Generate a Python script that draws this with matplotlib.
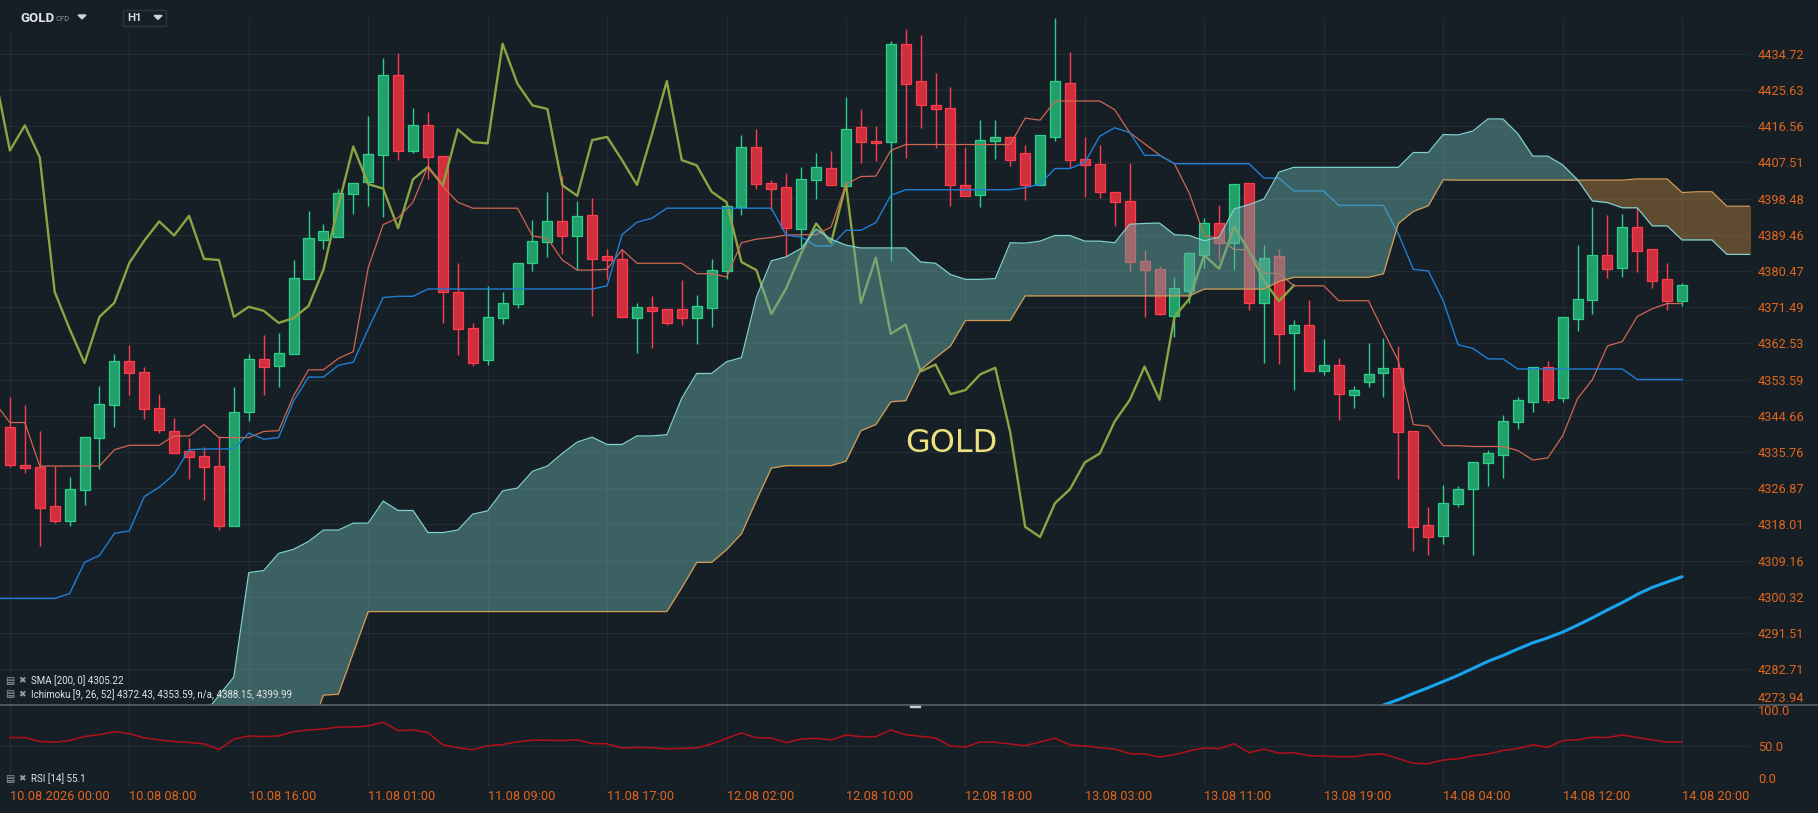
import matplotlib.pyplot as plt
import numpy as np
from matplotlib.patches import Rectangle, Polygon
from matplotlib.ticker import NullLocator

plt.rcParams['font.family'] = ['Roboto', 'DejaVu Sans']

# ---- candles, H1 (bar 0 = 10.08.2026 00:00) ----
opens = [4341.9, 4332.6, 4332.1, 4322.6, 4318.8, 4326.4, 4339.1, 4347.3, 4358.2, 4355.4,
         4346.7, 4341.0, 4335.9, 4334.8, 4332.3, 4317.7, 4345.5, 4358.7, 4356.9, 4359.9,
         4378.5, 4388.3, 4388.9, 4399.6, 4402.7, 4409.4, 4429.4, 4410.5, 4416.8, 4409.1,
         4375.3, 4366.3, 4358.4, 4368.8, 4372.3, 4382.5, 4387.7, 4392.8, 4389.3, 4394.4,
         4384.1, 4383.5, 4368.8, 4371.6, 4371.0, 4371.0, 4368.8, 4371.3, 4380.5, 4396.4,
         4411.5, 4402.4, 4401.4, 4391.0, 4403.1, 4406.1, 4401.6, 4416.3, 4412.9, 4412.6,
         4437.3, 4427.9, 4422.0, 4421.1, 4401.8, 4399.5, 4412.8, 4413.9, 4409.9, 4401.8,
         4414.0, 4427.5, 4408.5, 4407.2, 4400.2, 4397.9, 4383.0, 4380.9, 4369.4, 4375.4,
         4384.4, 4392.3, 4387.5, 4402.4, 4372.5, 4384.1, 4365.1, 4367.2, 4355.6, 4357.3,
         4349.7, 4352.9, 4355.2, 4356.5, 4341.0, 4317.9, 4315.1, 4323.1, 4326.6, 4333.0,
         4334.9, 4343.2, 4348.0, 4356.8, 4349.1, 4368.6, 4373.2, 4384.4, 4381.3, 4391.5,
         4386.0, 4378.4, 4373.0]
highs = [4349.2, 4347.2, 4340.8, 4332.3, 4329.5, 4339.4, 4352.0, 4359.9, 4362.2, 4356.7,
         4350.1, 4344.1, 4339.1, 4337.1, 4339.6, 4351.8, 4359.8, 4364.7, 4365.2, 4383.2,
         4395.3, 4392.2, 4401.0, 4402.4, 4419.2, 4433.8, 4434.9, 4421.2, 4420.1, 4409.1,
         4382.4, 4367.7, 4376.7, 4375.3, 4382.5, 4393.1, 4400.2, 4404.2, 4398.0, 4398.7,
         4386.0, 4385.8, 4372.6, 4374.3, 4371.0, 4378.2, 4374.5, 4383.5, 4396.7, 4414.5,
         4416.0, 4403.2, 4404.8, 4406.3, 4410.0, 4410.4, 4423.9, 4420.9, 4416.7, 4437.9,
         4440.9, 4439.6, 4430.0, 4426.5, 4411.4, 4418.1, 4418.2, 4414.2, 4412.0, 4414.5,
         4443.7, 4435.1, 4413.9, 4412.0, 4400.2, 4407.4, 4385.6, 4381.6, 4379.0, 4385.2,
         4393.7, 4396.8, 4402.1, 4402.4, 4386.9, 4386.0, 4368.3, 4373.4, 4363.7, 4358.8,
         4352.0, 4362.7, 4363.9, 4362.0, 4341.0, 4322.2, 4327.7, 4327.4, 4333.2, 4336.2,
         4344.8, 4349.3, 4356.8, 4358.2, 4369.1, 4386.9, 4396.5, 4394.3, 4394.6, 4396.2,
         4386.0, 4382.5, 4377.5]
lows = [4332.0, 4330.7, 4312.7, 4318.3, 4317.5, 4322.8, 4331.6, 4341.9, 4349.8, 4343.8,
        4340.4, 4335.4, 4329.0, 4323.9, 4316.6, 4317.5, 4343.4, 4349.7, 4351.8, 4359.9,
        4378.5, 4386.0, 4388.9, 4394.6, 4396.7, 4393.9, 4408.1, 4410.0, 4403.4, 4367.6,
        4359.6, 4356.9, 4357.1, 4367.4, 4371.2, 4380.4, 4383.9, 4384.7, 4380.7, 4369.2,
        4378.5, 4369.1, 4360.2, 4361.4, 4367.0, 4367.2, 4362.5, 4366.5, 4378.5, 4394.5,
        4401.0, 4395.7, 4384.1, 4386.6, 4398.4, 4401.8, 4401.6, 4407.5, 4408.0, 4382.9,
        4408.6, 4416.2, 4411.1, 4396.7, 4399.2, 4396.4, 4408.3, 4406.6, 4398.2, 4401.8,
        4413.0, 4406.2, 4398.9, 4398.6, 4391.6, 4380.5, 4369.1, 4369.5, 4364.1, 4372.6,
        4381.3, 4383.0, 4380.7, 4370.8, 4357.7, 4357.4, 4350.9, 4355.6, 4354.6, 4343.7,
        4346.7, 4351.7, 4349.2, 4329.1, 4311.4, 4310.4, 4313.2, 4322.3, 4310.6, 4327.4,
        4329.4, 4341.5, 4345.6, 4347.8, 4348.0, 4365.5, 4369.8, 4378.8, 4379.0, 4380.2,
        4376.3, 4370.7, 4371.7]
closes = [4332.6, 4331.9, 4322.0, 4318.8, 4326.7, 4339.4, 4347.5, 4358.2, 4355.2, 4346.3,
          4341.1, 4335.4, 4334.6, 4332.1, 4317.5, 4345.5, 4358.7, 4356.7, 4360.1, 4378.8,
          4388.6, 4390.3, 4399.8, 4402.4, 4409.6, 4429.4, 4410.5, 4416.8, 4408.8, 4375.3,
          4366.1, 4357.7, 4369.1, 4372.6, 4382.5, 4388.0, 4392.8, 4389.3, 4394.2, 4383.5,
          4383.2, 4369.1, 4371.6, 4370.6, 4367.6, 4368.8, 4371.8, 4380.8, 4396.7, 4411.5,
          4402.1, 4401.0, 4391.1, 4403.3, 4406.4, 4401.8, 4415.8, 4412.6, 4412.3, 4437.3,
          4427.2, 4421.8, 4420.9, 4401.8, 4399.2, 4413.1, 4413.9, 4408.1, 4401.9, 4414.5,
          4427.9, 4408.1, 4406.8, 4400.2, 4397.6, 4382.7, 4380.7, 4369.8, 4376.2, 4384.9,
          4392.3, 4387.5, 4402.1, 4372.5, 4383.8, 4364.9, 4367.2, 4355.6, 4357.3, 4350.0,
          4351.0, 4354.9, 4356.5, 4340.6, 4317.4, 4314.9, 4323.2, 4326.6, 4333.2, 4335.4,
          4343.3, 4348.5, 4356.8, 4348.6, 4369.1, 4373.6, 4384.4, 4381.0, 4391.5, 4385.4,
          4378.0, 4373.0, 4376.9]

# ---- Ichimoku [9, 26, 52] ----
tenkan = [4347.8, 4343.0, 4343.0, 4332.3, 4332.3, 4332.3, 4332.3, 4332.3, 4336.3, 4337.4,
          4337.4, 4337.4, 4339.7, 4339.7, 4342.5, 4339.3, 4339.3, 4339.3, 4340.8, 4341.0,
          4349.6, 4356.0, 4356.0, 4358.8, 4360.5, 4381.3, 4392.0, 4393.7, 4397.6, 4406.6,
          4401.5, 4397.6, 4396.1, 4396.1, 4396.1, 4396.1, 4389.2, 4388.6, 4383.2, 4380.7,
          4380.7, 4380.9, 4385.8, 4382.4, 4382.4, 4382.4, 4382.4, 4379.8, 4379.8, 4379.0,
          4387.5, 4388.4, 4388.8, 4389.4, 4389.5, 4389.5, 4391.4, 4402.1, 4404.0, 4404.1,
          4410.5, 4412.0, 4412.0, 4412.0, 4412.0, 4412.0, 4412.0, 4412.0, 4412.0, 4418.6,
          4418.1, 4422.9, 4422.9, 4422.9, 4422.9, 4420.7, 4415.0, 4412.2, 4409.4, 4407.2,
          4399.8, 4389.2, 4388.6, 4385.8, 4385.8, 4379.9, 4379.9, 4376.8, 4376.8, 4376.8,
          4373.1, 4373.1, 4373.1, 4365.5, 4358.2, 4342.5, 4342.1, 4337.3, 4337.3, 4337.1,
          4337.1, 4337.1, 4336.1, 4333.8, 4334.3, 4339.7, 4348.9, 4353.6, 4361.9, 4363.0,
          4369.2, 4371.1, 4372.4, 4372.4]
kijun = [4299.9, 4299.9, 4299.9, 4299.9, 4299.9, 4301.1, 4308.7, 4310.4, 4315.8, 4316.4,
         4324.8, 4327.1, 4330.3, 4336.3, 4336.5, 4336.5, 4336.5, 4340.4, 4338.9, 4339.3,
         4348.3, 4354.2, 4354.2, 4357.1, 4357.9, 4366.1, 4373.9, 4374.2, 4374.2, 4376.0,
         4376.0, 4376.0, 4376.0, 4376.0, 4376.0, 4376.0, 4376.0, 4376.0, 4376.0, 4376.0,
         4376.0, 4376.8, 4389.5, 4392.6, 4393.6, 4396.1, 4396.1, 4396.1, 4396.1, 4396.1,
         4396.1, 4396.1, 4396.1, 4389.4, 4388.9, 4386.7, 4386.7, 4390.6, 4390.6, 4392.5,
         4399.3, 4400.7, 4400.7, 4400.7, 4400.7, 4400.7, 4400.7, 4400.7, 4400.7, 4401.2,
         4402.1, 4406.0, 4406.0, 4407.5, 4414.1, 4416.2, 4415.0, 4409.3, 4409.3, 4407.2,
         4407.2, 4407.2, 4407.2, 4407.2, 4407.2, 4403.6, 4403.6, 4400.4, 4400.4, 4400.4,
         4396.8, 4396.8, 4396.8, 4396.8, 4389.7, 4380.9, 4380.5, 4373.1, 4362.2, 4361.3,
         4358.7, 4358.7, 4356.2, 4356.2, 4356.2, 4356.2, 4356.2, 4356.2, 4356.2, 4356.2,
         4353.6, 4353.6, 4353.6, 4353.6]
# senkou spans, bars 11..117 (cloud is drawn 26 bars ahead)
senkou_a = [4262.0, 4266.0, 4271.8, 4276.3, 4280.8, 4306.2, 4306.7, 4310.9, 4311.9, 4313.8,
            4316.6, 4316.6, 4318.3, 4318.3, 4323.7, 4321.4, 4321.4, 4316.0, 4316.0, 4316.6,
            4320.5, 4321.3, 4326.2, 4326.9, 4331.0, 4332.3, 4335.4, 4338.2, 4339.4, 4337.6,
            4337.6, 4339.7, 4339.7, 4340.0, 4349.0, 4355.1, 4355.1, 4358.0, 4359.0, 4374.0,
            4383.0, 4384.0, 4386.1, 4390.9, 4388.4, 4386.9, 4386.2, 4386.2, 4386.2, 4386.2,
            4382.7, 4382.4, 4379.6, 4378.4, 4378.4, 4378.6, 4387.5, 4387.4, 4387.9, 4389.3,
            4389.3, 4387.9, 4387.9, 4387.5, 4392.1, 4392.3, 4392.4, 4389.5, 4389.3, 4388.0,
            4388.9, 4395.9, 4397.0, 4398.4, 4405.1, 4406.3, 4406.3, 4406.3, 4406.3, 4406.3,
            4406.3, 4406.3, 4406.3, 4410.0, 4410.0, 4414.5, 4414.4, 4415.4, 4418.4, 4418.4,
            4414.7, 4409.1, 4409.1, 4406.9, 4403.2, 4397.9, 4397.5, 4396.2, 4396.2, 4391.7,
            4391.7, 4388.2, 4388.2, 4388.2, 4384.6, 4384.6, 4384.6]
senkou_b = [4262.0, 4262.0, 4262.0, 4262.0, 4262.0, 4262.0, 4262.0, 4262.0, 4262.0, 4266.6,
            4276.4, 4276.6, 4286.7, 4296.7, 4296.7, 4296.7, 4296.7, 4296.7, 4296.7, 4296.7,
            4296.7, 4296.7, 4296.7, 4296.7, 4296.7, 4296.7, 4296.7, 4296.7, 4296.7, 4296.7,
            4296.7, 4296.7, 4296.7, 4296.7, 4302.5, 4308.7, 4308.7, 4311.8, 4315.7, 4323.9,
            4331.8, 4332.4, 4332.4, 4332.4, 4332.4, 4333.5, 4341.0, 4342.5, 4348.1, 4348.4,
            4356.0, 4359.0, 4361.9, 4368.2, 4368.2, 4368.2, 4368.2, 4374.3, 4374.3, 4374.3,
            4374.3, 4374.3, 4374.3, 4374.3, 4374.3, 4374.3, 4374.3, 4374.3, 4374.3, 4376.0,
            4376.0, 4376.0, 4376.0, 4376.0, 4377.9, 4378.9, 4378.9, 4378.9, 4378.9, 4378.9,
            4378.9, 4379.8, 4392.3, 4395.3, 4396.7, 4403.2, 4403.1, 4403.1, 4403.1, 4403.1,
            4403.1, 4403.1, 4403.1, 4403.1, 4403.1, 4403.1, 4403.1, 4403.1, 4403.4, 4403.4,
            4403.4, 4400.0, 4400.2, 4400.2, 4396.6, 4396.6, 4396.6]

# SMA [200, 0], bars 91..112
sma200 = [4272.4, 4274.0, 4275.3, 4276.8, 4278.2, 4279.7, 4281.2, 4282.9, 4284.6, 4286.0,
          4287.6, 4289.1, 4290.3, 4291.7, 4293.4, 4295.2, 4297.1, 4298.9, 4300.9, 4302.6,
          4303.9, 4305.2]

# RSI [14]
rsi = [60.2, 60.2, 55.3, 54.5, 56.5, 61.4, 63.8, 67.5, 65.0, 59.8,
       57.3, 55.3, 54.1, 52.4, 45.5, 58.1, 62.2, 61.4, 62.2, 67.5,
       69.5, 70.7, 73.2, 73.2, 74.4, 79.3, 68.7, 69.5, 66.3, 51.2,
       47.6, 45.1, 50.0, 51.6, 54.9, 56.9, 56.9, 56.5, 57.3, 52.8,
       52.4, 47.2, 48.0, 47.6, 46.3, 46.7, 47.6, 52.2, 59.2, 65.8,
       60.0, 59.6, 53.9, 58.4, 59.2, 57.2, 63.3, 61.3, 61.3, 69.5,
       63.7, 61.7, 59.6, 49.8, 48.5, 54.7, 54.3, 52.2, 50.2, 54.7,
       59.6, 51.0, 49.8, 47.7, 46.0, 40.3, 39.9, 36.2, 39.1, 43.8,
       47.3, 46.5, 52.6, 41.5, 46.0, 40.7, 41.5, 37.8, 37.4, 36.6,
       36.6, 39.1, 39.9, 34.1, 28.4, 27.9, 32.5, 33.9, 37.8, 39.8,
       44.3, 46.7, 51.2, 48.0, 56.5, 57.3, 60.6, 60.2, 63.4, 60.2,
       57.3, 54.5, 55.1]

price_ticks = [4434.72, 4425.63, 4416.56, 4407.51, 4398.48, 4389.46, 4380.47, 4371.49,
               4362.53, 4353.59, 4344.66, 4335.76, 4326.87, 4318.01, 4309.16, 4300.32,
               4291.51, 4282.71, 4273.94]
time_labels = ['10.08.2026 00:00', '10.08 08:00', '10.08 16:00', '11.08 01:00',
               '11.08 09:00', '11.08 17:00', '12.08 02:00', '12.08 10:00', '12.08 18:00',
               '13.08 03:00', '13.08 11:00', '13.08 19:00', '14.08 04:00', '14.08 12:00',
               '14.08 20:00']
time_pos = [0, 8, 16, 24, 32, 40, 48, 56, 64, 72, 80, 88, 96, 104, 112]

BG = '#171f26'
GRID = '#222c34'
AXCOL = '#e0651c'
W, H = 1818, 813


def fx(px):
    return px / W


def fy(py):
    return 1 - py / H


fig = plt.figure(figsize=(W / 100, H / 100), dpi=100, facecolor=BG)
ax = fig.add_axes([0, fy(705.3), fx(1750), 705.3 / H])
rax = fig.add_axes([0, fy(786.3), fx(1750), 81 / H])
for a in (ax, rax):
    a.set_facecolor(BG)
    for s in a.spines.values():
        s.set_visible(False)
    a.set_xlim(-0.663, 116.55)

# ---- main panel ----
ax.set_yscale('log')
ax.set_ylim(4273.93, 4448.3)
ax.yaxis.set_minor_locator(NullLocator())
ax.yaxis.tick_right()
ax.set_yticks(price_ticks)
ylabs = ax.set_yticklabels([f'{p:.2f}' for p in price_ticks])
ylabs[-1].set_va('bottom')
ax.tick_params(axis='y', length=0, pad=5.8, labelcolor=AXCOL, labelsize=9.2)
ax.set_xticks([])

for p in price_ticks:
    ax.axhline(p, color=GRID, lw=0.9, zorder=0.5)
for t in time_pos:
    ax.axvline(t, ymax=0.955 if t < 10 else 0.9745, color=GRID, lw=0.9, zorder=0.5)

ax.text(0.5434, 0.3597, 'GOLD', transform=ax.transAxes, ha='center', va='baseline',
        fontsize=23, color='#ece07e', family='DejaVu Sans', zorder=1)

x = np.arange(len(opens))
o, hi, lo, c = (np.array(v) for v in (opens, highs, lows, closes))
up = c >= o
btm = np.minimum(o, c)
hgt = np.maximum(np.abs(c - o), 0.12)
G_FILL, G_EDGE = '#22a06c', '#2bd08b'
R_FILL, R_EDGE = '#d0303e', '#ff3b4e'
ax.vlines(x[up], lo[up], hi[up], color=G_EDGE, lw=1, zorder=3)
ax.vlines(x[~up], lo[~up], hi[~up], color=R_EDGE, lw=1, zorder=3)
ax.bar(x[up], hgt[up], bottom=btm[up], width=0.67, color=G_FILL, edgecolor=G_EDGE,
       lw=0.9, zorder=3.5)
ax.bar(x[~up], hgt[~up], bottom=btm[~up], width=0.67, color=R_FILL, edgecolor=R_EDGE,
       lw=0.9, zorder=3.5)

xl = np.arange(-1, 113)
ax.plot(np.arange(-1, 87), closes[25:], color='#8aa542', lw=1.7, zorder=4)
ax.plot(xl, tenkan, color='#cf6752', lw=0.9, zorder=4)
ax.plot(xl, kijun, color='#1f7fd6', lw=1.0, zorder=4)
ax.plot(np.arange(91, 113), sma200, color='#17a5ee', lw=2.2, zorder=4,
        solid_capstyle='round')

xs = np.arange(11, 118)
sa, sb = np.array(senkou_a), np.array(senkou_b)
ax.fill_between(xs, sa, sb, where=sa >= sb, interpolate=True, color='#66aaa6',
                alpha=0.48, lw=0, zorder=6)
ax.fill_between(xs, sa, sb, where=sa < sb, interpolate=True, color='#a8783a',
                alpha=0.5, lw=0, zorder=6)
ax.plot(xs, sb, color='#d39a52', lw=0.9, zorder=7)
ax.plot(xs, sa, color='#80d2d0', lw=0.9, zorder=7)

# ---- RSI panel ----
rax.set_ylim(0, 100)
rax.yaxis.tick_right()
rax.set_yticks([0, 50, 100])
rlabs = rax.set_yticklabels(['0.0', '50.0', '100.0'])
rlabs[0].set_va('bottom')
rlabs[2].set_va('top')
rax.tick_params(axis='y', length=0, pad=5.8, labelcolor=AXCOL, labelsize=9.2)
rax.set_xticks(time_pos)
xlabs = rax.set_xticklabels(time_labels)
for t in xlabs:
    t.set_ha('left')
rax.tick_params(axis='x', length=0, pad=3.0, labelcolor=AXCOL, labelsize=9.2)
for t in time_pos:
    rax.axvline(t, color=GRID, lw=0.9, zorder=0.5)
rax.axhline(50, color=GRID, lw=0.9, zorder=0.5)
rax.axhline(0.6, color=GRID, lw=1.0, zorder=0.5)
rax.plot(np.arange(len(rsi)), rsi, color='#b3101c', lw=1.1, zorder=3)

# ---- figure decorations ----
fig.add_artist(plt.Line2D([0, 1], [fy(705.3), fy(705.3)], color='#56616b', lw=1.2))
fig.add_artist(Rectangle((fx(910), fy(707)), fx(10), 2.4 / H, color='#c5cad0',
                         transform=fig.transFigure))

fig.text(fx(20), fy(18.3), 'GOLD', color='#e3e6e9', fontsize=9.5, fontweight='bold',
         va='center')
fig.text(fx(55), fy(19.3), 'CFD', color='#87919a', fontsize=5.5, va='center')
fig.add_artist(Polygon([(fx(78), fy(15)), (fx(86), fy(15)), (fx(82), fy(18.8))],
                       closed=True, color='#cfd3d7', transform=fig.transFigure))
fig.add_artist(Rectangle((fx(122.7), fy(25.7)), fx(43), 15.7 / H, facecolor=BG,
                         edgecolor='#2b353e', lw=1, transform=fig.transFigure))
fig.text(fx(127.7), fy(18.3), 'H1', color='#d4d8dc', fontsize=8.2, fontweight='bold',
         va='center')
fig.add_artist(Polygon([(fx(154), fy(15.5)), (fx(162), fy(15.5)), (fx(158), fy(19.3))],
                       closed=True, color='#cfd3d7', transform=fig.transFigure))

legend_rows = [(680.7, 'SMA [200, 0] 4305.22'),
               (694.3, 'Ichimoku [9, 26, 52] 4372.43, 4353.59, n/a, 4388.15, 4399.99'),
               (779.0, 'RSI [14] 55.1')]
for yy, txt in legend_rows:
    fig.text(fx(5), fy(yy), '\u25a4', color='#97a0a8', fontsize=7, va='center',
             family='DejaVu Sans')
    fig.text(fx(18.5), fy(yy), '\u2716', color='#97a0a8', fontsize=6.5, va='center',
             family='DejaVu Sans')
    fig.text(fx(31), fy(yy), txt, color='#e2e5e8', fontsize=7, va='center')

fig.savefig('out.png', dpi=100, facecolor=BG)
